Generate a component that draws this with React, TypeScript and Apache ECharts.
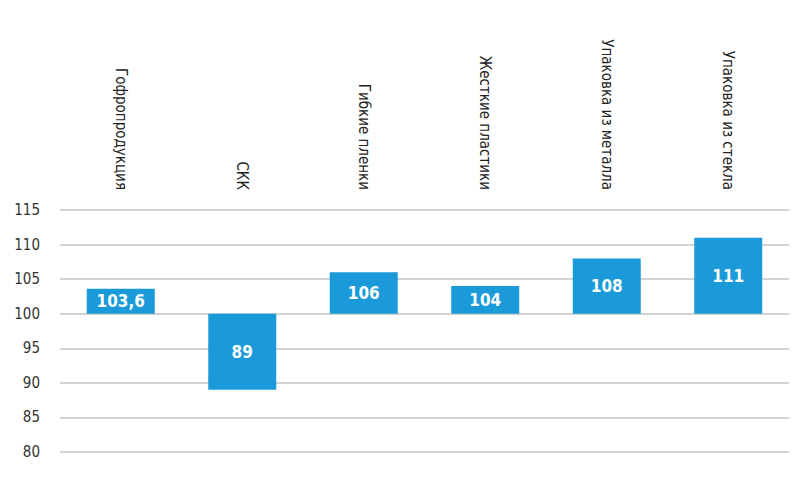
import { useEffect, useRef } from 'react';
import * as echarts from 'echarts';

const categories = ['Гофропродукция', 'СКК', 'Гибкие пленки', 'Жесткие пластики', 'Упаковка из металла', 'Упаковка из стекла'];
const values = [103.6, 89, 106, 104, 108, 111];
const valueLabels = ['103,6', '89', '106', '104', '108', '111'];
const BASE = 100;

const App = () => {
  const chartRef = useRef<HTMLDivElement>(null);

  useEffect(() => {
    document.body.style.margin = '0';
    if (!chartRef.current) return;
    const chart = echarts.init(chartRef.current, null, { renderer: 'svg' });

    const baseData = values.map((v) => Math.min(v, BASE));
    const deltaData = values.map((v) => Math.abs(v - BASE));

    chart.setOption({
      animation: false,
      textStyle: { fontFamily: 'DejaVu Sans Condensed' },
      grid: { left: 60, right: 16, top: 210, bottom: 49 },
      xAxis: {
        type: 'category',
        position: 'top',
        data: categories,
        axisLine: { show: false },
        axisTick: { show: false },
        axisLabel: { rotate: 90, margin: 20, color: '#222', fontSize: 15, interval: 0 }
      },
      yAxis: {
        type: 'value',
        min: 80,
        max: 115,
        interval: 5,
        axisLine: { show: false },
        axisTick: { show: false },
        axisLabel: { color: '#333', fontSize: 15, margin: 20 },
        splitLine: { lineStyle: { color: '#c4c4c4', width: 1.5 } }
      },
      series: [
        {
          type: 'bar',
          stack: 'all',
          barWidth: 68,
          itemStyle: { color: 'transparent' },
          data: baseData,
          silent: true
        },
        {
          type: 'bar',
          stack: 'all',
          barWidth: 68,
          itemStyle: { color: '#1a9ad8' },
          label: {
            show: true,
            position: 'inside',
            color: '#fff',
            fontWeight: 'bold',
            fontSize: 17,
            formatter: (p: any) => valueLabels[p.dataIndex]
          },
          data: deltaData
        }
      ]
    });

    return () => chart.dispose();
  }, []);

  return <div ref={chartRef} style={{ width: '805px', height: '501px' }} />;
};

export default App;
